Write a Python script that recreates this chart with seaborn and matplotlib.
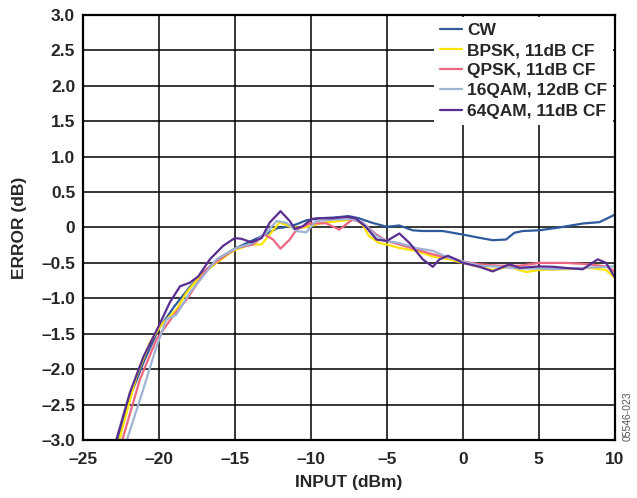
import numpy as np
import pandas as pd
import matplotlib
matplotlib.use('Agg')
import matplotlib.pyplot as plt
import seaborn as sns
from matplotlib.ticker import FuncFormatter

# values (input dBm, error dB)
cw_x = [-22.7, -22.0, -21.0, -20.0, -19.0, -18.0, -17.0, -16.0, -15.0, -14.0, -13.0,
        -12.2, -11.8, -11.0, -10.3, -9.45, -8.5, -7.5, -6.84, -5.96, -5.0, -4.17, -3.3,
        -2.63, -1.32, 0.0, 1.1, 1.97, 2.85, 3.4, 3.95, 5.04, 6.36, 7.9, 9.0, 10.0]
cw_y = [-3.0, -2.45, -1.9, -1.43, -1.12, -0.85, -0.62, -0.43, -0.3, -0.2, -0.1,
        -0.01, 0.0, 0.04, 0.1, 0.13, 0.14, 0.16, 0.13, 0.066, 0.01, 0.028, -0.04,
        -0.05, -0.05, -0.1, -0.146, -0.18, -0.17, -0.075, -0.05, -0.04, 0.0, 0.056, 0.075, 0.18]

bpsk_x = [-22.6, -21.47, -20.6, -19.82, -18.84, -18.18, -17.3, -16.2, -15.1, -14.0, -13.24,
          -12.7, -12.04, -11.27, -10.5, -10.0, -9.2, -8.13, -7.05, -6.6, -6.17, -5.5, -5.0,
          -4.17, -3.07, -1.97, -0.88, 0.0, 1.1, 1.97, 3.07, 4.17, 5.04, 6.8, 8.34, 9.43, 10.0]
bpsk_y = [-3.0, -2.1, -1.63, -1.37, -1.16, -0.92, -0.69, -0.5, -0.33, -0.24, -0.24,
          -0.1, 0.075, 0.0, 0.0, 0.02, 0.066, 0.09, 0.12, 0.04, -0.12, -0.22, -0.24,
          -0.29, -0.33, -0.41, -0.45, -0.5, -0.555, -0.6, -0.555, -0.63, -0.6, -0.59, -0.57, -0.6, -0.71]

qpsk_x = [-22.4, -21.25, -20.15, -19.06, -18.18, -16.86, -15.99, -14.89, -13.8, -13.03,
          -12.48, -11.99, -11.38, -10.94, -10.07, -9.0, -8.13, -7.27, -6.6, -5.68, -5.0,
          -4.17, -3.07, -1.97, -0.88, 0.0, 1.1, 2.41, 3.73, 5.04, 6.8, 8.34, 9.43, 10.0]
qpsk_y = [-3.0, -2.15, -1.58, -1.25, -1.02, -0.59, -0.45, -0.29, -0.24, -0.1,
          -0.17, -0.3, -0.17, -0.03, 0.056, 0.06, -0.03, 0.11, 0.07, -0.1, -0.19,
          -0.24, -0.31, -0.38, -0.43, -0.48, -0.52, -0.54, -0.54, -0.5, -0.5, -0.52, -0.55, -0.62]

qam16_x = [-22.1, -21.03, -20.15, -19.5, -18.84, -17.96, -17.09, -16.2, -14.89, -13.8,
           -12.92, -12.26, -11.6, -10.94, -10.3, -9.67, -8.57, -7.27, -6.6, -5.68, -5.0,
           -4.17, -3.07, -1.97, -0.88, 0.0, 1.1, 2.41, 3.73, 5.04, 5.92, 7.9, 10.0]
qam16_y = [-3.0, -2.29, -1.68, -1.3, -1.23, -0.92, -0.69, -0.45, -0.29, -0.22,
           -0.075, 0.09, 0.066, -0.05, -0.07, 0.09, 0.11, 0.12, 0.07, -0.12, -0.19,
           -0.22, -0.29, -0.33, -0.43, -0.48, -0.54, -0.555, -0.58, -0.58, -0.59, -0.57, -0.55]

qam64_x = [-22.8, -21.9, -21.0, -20.0, -19.28, -18.6, -17.96, -17.4, -16.64, -15.77, -15.0,
           -14.56, -13.9, -13.24, -12.7, -11.99, -11.38, -11.05, -10.5, -9.95, -9.45, -8.57,
           -7.6, -7.05, -6.34, -5.68, -5.0, -4.17, -3.5, -2.63, -1.97, -1.53, -0.98, -0.44,
           0.0, 1.1, 1.97, 3.07, 3.73, 5.04, 5.92, 7.24, 7.9, 8.88, 9.43, 10.0]
qam64_y = [-3.0, -2.33, -1.82, -1.39, -1.06, -0.83, -0.78, -0.69, -0.45, -0.26, -0.15,
           -0.16, -0.21, -0.15, 0.07, 0.23, 0.09, -0.02, 0.02, 0.12, 0.13, 0.13,
           0.15, 0.13, 0.0, -0.17, -0.19, -0.085, -0.22, -0.45, -0.555, -0.45, -0.40, -0.45,
           -0.5, -0.555, -0.62, -0.52, -0.57, -0.55, -0.555, -0.58, -0.59, -0.45, -0.5, -0.70]

names = ['CW', 'BPSK, 11dB CF', 'QPSK, 11dB CF', '16QAM, 12dB CF', '64QAM, 11dB CF']
colors = ['#2f5a9c', '#ffe400', '#ee6680', '#9fb3d3', '#5a2d92']
series = [(cw_x, cw_y), (bpsk_x, bpsk_y), (qpsk_x, qpsk_y), (qam16_x, qam16_y), (qam64_x, qam64_y)]

frames = []
for name, (xs, ys) in zip(names, series):
    frames.append(pd.DataFrame({'Input': xs, 'Error': ys, 'Signal': name}))
df = pd.concat(frames, ignore_index=True)

sns.set_style('white')
plt.rcParams['font.family'] = ['Liberation Sans', 'DejaVu Sans']

fig = plt.figure(figsize=(6.37, 4.98), dpi=100)
ax = fig.add_axes([0.130, 0.1165, 0.835, 0.8535])

sns.lineplot(data=df, x='Input', y='Error', hue='Signal', hue_order=names,
             palette=colors, sort=False, estimator=None, linewidth=1.6, ax=ax)

ax.set_xlim(-25, 10)
ax.set_ylim(-3, 3)
ax.set_xticks(np.arange(-25, 11, 5))
ax.set_yticks(np.arange(-3, 3.01, 0.5))

def fmt_x(v, pos):
    return f'{v:.0f}'.replace('-', '\u2013')

def fmt_y(v, pos):
    if abs(v) < 1e-9:
        return '0'
    return f'{v:.1f}'.replace('-', '\u2013')

ax.xaxis.set_major_formatter(FuncFormatter(fmt_x))
ax.yaxis.set_major_formatter(FuncFormatter(fmt_y))
ax.tick_params(axis='x', length=0, pad=8.5, labelsize=12.5)
ax.tick_params(axis='y', length=0, pad=5.5, labelsize=12.5)
for lab in ax.get_xticklabels() + ax.get_yticklabels():
    lab.set_fontweight('bold')

ax.grid(True, color='black', linewidth=1.1)
ax.set_axisbelow(True)
for sp in ax.spines.values():
    sp.set_color('black')
    sp.set_linewidth(1.6)

ax.set_xlabel('INPUT (dBm)', fontsize=12.5, fontweight='bold', labelpad=6)
ax.set_ylabel('ERROR (dB)', fontsize=12.5, fontweight='bold', labelpad=10)

leg = ax.legend(loc='upper right', frameon=True, fancybox=False, framealpha=1,
                edgecolor='white', facecolor='white', borderaxespad=0.1,
                handlelength=1.25, handletextpad=0.3, labelspacing=0.29,
                borderpad=0.35, prop={'weight': 'bold', 'size': 12.5})
leg.get_frame().set_linewidth(0)

fig.text(0.986, 0.115, '05546-023', rotation=90, fontsize=7.5, color='#555555',
         ha='center', va='bottom')

fig.savefig('out.png', dpi=100)
